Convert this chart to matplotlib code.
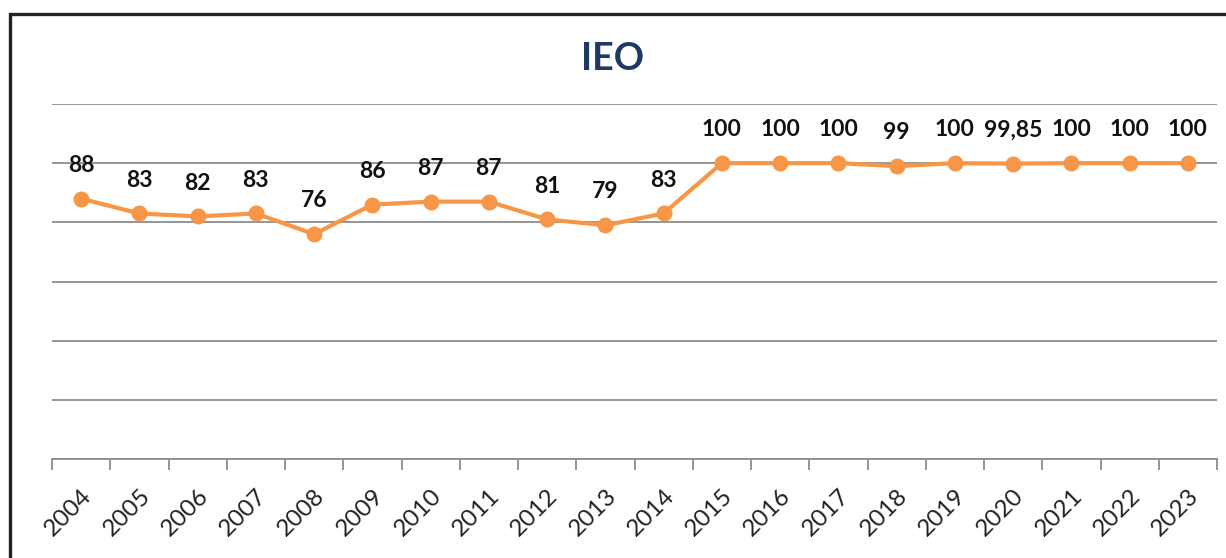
import matplotlib
matplotlib.use("Agg")
import matplotlib.pyplot as plt
from matplotlib.patches import Rectangle
import numpy as np

years = ["2004", "2005", "2006", "2007", "2008", "2009", "2010", "2011", "2012", "2013",
         "2014", "2015", "2016", "2017", "2018", "2019", "2020", "2021", "2022", "2023"]
values = [88, 83, 82, 83, 76, 86, 87, 87, 81, 79, 83, 100, 100, 100, 99, 100, 99.85, 100, 100, 100]
labels = ["88", "83", "82", "83", "76", "86", "87", "87", "81", "79", "83", "100", "100", "100",
          "99", "100", "99,85", "100", "100", "100"]
title = "IEO"

W, H = 1226, 558
fig = plt.figure(figsize=(W / 100, H / 100), dpi=100)
fig.patch.set_facecolor("white")

ax = fig.add_axes([52 / W, 1 - 459 / H, (1217 - 52) / W, (459 - 104) / H])
x = np.arange(len(years))
ax.plot(x, values, color="#F79646", lw=3.0, marker="o", ms=10.5, zorder=3, clip_on=False)

ax.set_xlim(-0.5, len(years) - 0.5)
ax.set_ylim(0, 120)
ax.set_yticks(np.arange(0, 121, 20))
ax.yaxis.grid(True, color="#8c8c8c", lw=1.3)
ax.tick_params(axis="y", length=0, labelleft=False)
for s in ["left", "right", "top"]:
    ax.spines[s].set_visible(False)
ax.spines["bottom"].set_color("#8c8c8c")
ax.spines["bottom"].set_linewidth(1.3)
ax.set_axisbelow(True)

ax.set_xticks(x)
ax.set_xticklabels(years, rotation=45, ha="right", va="top", fontsize=17.5,
                   family=["Lato", "DejaVu Sans"], color="#222222")
ax.tick_params(axis="x", which="major", length=0, pad=19)
ax.set_xticks(np.arange(-0.5, len(years)), minor=True)
ax.tick_params(axis="x", which="minor", length=8, width=1.3, color="#8c8c8c", direction="out")
for lab in ax.get_xticklabels():
    lab.set_rotation_mode("anchor")

for xi, v, lab in zip(x, values, labels):
    ax.annotate(lab, (xi, v), xytext=(0, 24), textcoords="offset points",
                ha="center", va="center", fontsize=16.5, family=["Lato", "DejaVu Sans"],
                color="#111111", fontweight="bold")

fig.text(0.5, 1 - 59 / H, title, ha="center", va="center", fontsize=27,
         fontweight="bold", color="#1F3864", family=["Lato", "DejaVu Sans"])

fig.patches.append(Rectangle((9.5 / W, -0.2), 1.2, 1.2 + (1 - 13.5 / H) - 1.0,
                             transform=fig.transFigure, fill=False, ec="#222222", lw=2.4))

fig.savefig("out.png", dpi=100)
